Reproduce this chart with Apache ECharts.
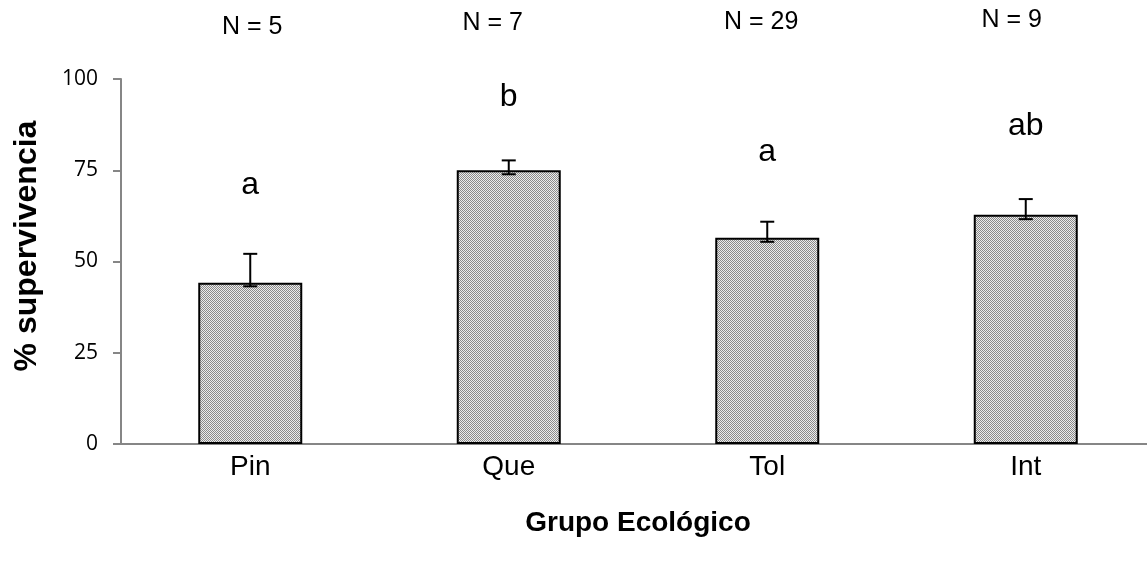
<!DOCTYPE html>
<html>
<head>
<meta charset="utf-8">
<script src="https://cdn.jsdelivr.net/npm/echarts@6/dist/echarts.min.js"></script>
<style>html,body{margin:0;padding:0;background:#fff;}#c{width:1147px;height:565px;}</style>
</head>
<body>
<div id="c"></div>
<script>
const categories = ['Pin', 'Que', 'Tol', 'Int'];
const sampleSizes = ['N = 5', 'N = 7', 'N = 29', 'N = 9'];
const survival = [44.2, 75.0, 56.5, 62.8];
const errUpper = [52.1, 77.7, 60.9, 67.1];
const errLower = [43.2, 73.9, 55.4, 61.6];
const groupLetters = ['a', 'b', 'a', 'ab'];
const letterLevels = [71, 95, 80, 87];
const yTicks = [0, 25, 50, 75, 100];

// small manual nudges (pixels) of the N labels, as in the original
const nNudgeX = [2, -16, -6, -14];
const nNudgeY = [27, 23, 22, 20];

// hatched fill pattern
const pat = document.createElement('canvas');
pat.width = 4; pat.height = 4;
const pc = pat.getContext('2d');
pc.fillStyle = '#ececec'; pc.fillRect(0, 0, 4, 4);
pc.fillStyle = '#8a8a8a';
pc.fillRect(0, 0, 1, 1); pc.fillRect(2, 0, 1, 1);
pc.fillRect(1, 1, 1, 1); pc.fillRect(3, 1, 1, 1);
pc.fillRect(0, 2, 1, 1); pc.fillRect(2, 2, 1, 1);
pc.fillRect(1, 3, 1, 1); pc.fillRect(3, 3, 1, 1);

const chart = echarts.init(document.getElementById('c'), null, {renderer: 'canvas'});
const axisGray = '#868686';
chart.setOption({
  animation: false,
  grid: {left: 121, top: 79, bottom: 121, width: 1034, containLabel: false, outerBoundsMode: 'none'},
  graphic: [{
    type: 'text', x: 27, y: 246, rotation: Math.PI / 2,
    style: {text: '% supervivencia', fill: '#000', fontFamily: 'Liberation Sans, Arial', fontSize: 32,
      fontWeight: 'bold', align: 'center', verticalAlign: 'middle'}
  }],
  xAxis: {
    type: 'category',
    data: categories,
    axisLine: {lineStyle: {color: axisGray, width: 2}},
    axisTick: {show: false},
    axisLabel: {color: '#000', fontFamily: 'Liberation Sans, Arial', fontSize: 28, margin: 9},
    name: 'Grupo Ecológico',
    nameLocation: 'middle',
    nameGap: 65,
    nameTextStyle: {color: '#000', fontFamily: 'Liberation Sans, Arial', fontSize: 28, fontWeight: 'bold'}
  },
  yAxis: {
    type: 'value',
    min: 0, max: 100, interval: 25,
    axisLine: {show: true, lineStyle: {color: axisGray, width: 2}},
    axisTick: {show: true, length: 8, inside: false, lineStyle: {color: axisGray, width: 2}},
    splitLine: {show: false},
    axisLabel: {color: '#000', fontFamily: 'Open Sans, Liberation Sans', fontSize: 21, margin: 23,
      formatter: v => yTicks.includes(v) ? String(v) : ''}
  },
  series: [{
    type: 'bar',
    data: survival,
    barWidth: 104,
    itemStyle: {color: {image: pat, repeat: 'repeat'}, borderColor: '#000', borderWidth: 2}
  }, {
    type: 'custom',
    data: categories.map((c, i) => [i, errLower[i], errUpper[i]]),
    renderItem: function (params, api) {
      const i = api.value(0);
      const lo = api.coord([i, api.value(1)]);
      const hi = api.coord([i, api.value(2)]);
      const hw = 7;
      const st = {stroke: '#000', lineWidth: 2};
      return {type: 'group', children: [
        {type: 'line', shape: {x1: lo[0], y1: lo[1], x2: hi[0], y2: hi[1]}, style: st},
        {type: 'line', shape: {x1: lo[0] - hw, y1: lo[1], x2: lo[0] + hw, y2: lo[1]}, style: st},
        {type: 'line', shape: {x1: hi[0] - hw, y1: hi[1], x2: hi[0] + hw, y2: hi[1]}, style: st}
      ]};
    },
    z: 5
  }, {
    type: 'custom',
    clip: false,
    data: categories.map((c, i) => [i, letterLevels[i]]),
    renderItem: function (params, api) {
      const i = api.value(0);
      const k = params.dataIndex;
      const p = api.coord([i, api.value(1)]);
      const base = api.coord([i, 0]);
      return {type: 'group', children: [
        {type: 'text', x: p[0], y: p[1], style: {
          text: groupLetters[k], fill: '#000', fontSize: 32,
          fontFamily: 'Liberation Sans, Arial', align: 'center', verticalAlign: 'middle'}},
        {type: 'text', x: base[0] + nNudgeX[k], y: nNudgeY[k], style: {
          text: sampleSizes[k], fill: '#000', fontSize: 25,
          fontFamily: 'Liberation Sans, Arial', align: 'center', verticalAlign: 'middle'}}
      ]};
    },
    z: 6
  }]
});
</script>
</body>
</html>
